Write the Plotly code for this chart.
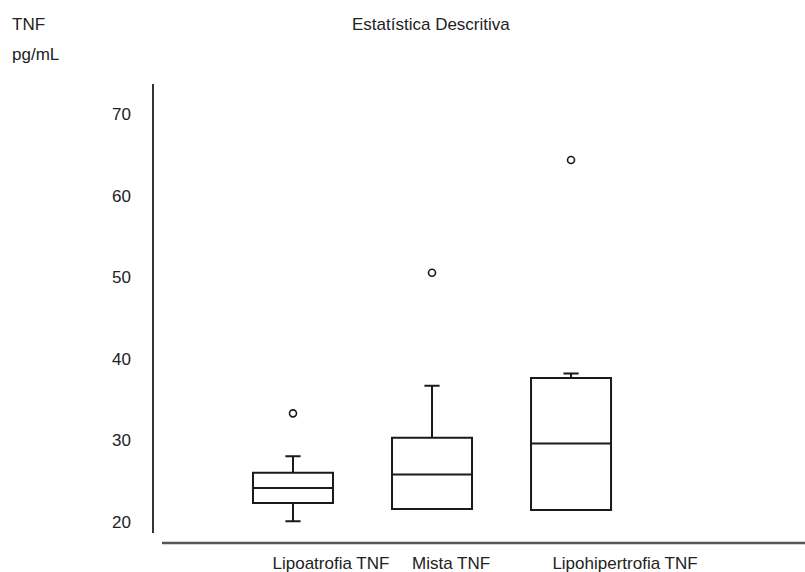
import plotly.graph_objects as go

categories = ["Lipoatrofia TNF", "Mista TNF", "Lipohipertrofia TNF"]
q1 = [22.3, 21.55, 21.45]
median = [24.15, 25.8, 29.6]
q3 = [26.0, 30.3, 37.65]
lower_fence = [20.05, 21.9, 21.95]
upper_fence = [28.05, 36.7, 38.2]
outliers = [33.3, 50.55, 64.4]
y_ticks = [20, 30, 40, 50, 60, 70]

positions = [0, 1, 2]
label_positions = [0.273, 1.137, 2.388]

FONT = "Liberation Sans, Arial, sans-serif"
TXT = "#222222"
LINE = "#1a1a1a"

fig = go.Figure()
fig.add_trace(go.Box(
    x=positions, q1=q1, median=median, q3=q3,
    lowerfence=lower_fence, upperfence=upper_fence,
    width=0.5755, whiskerwidth=0.19,
    fillcolor="rgba(255,255,255,0)",
    line=dict(color=LINE, width=2),
    boxpoints=False, showlegend=False, hoverinfo="skip",
))
fig.add_trace(go.Scatter(
    x=positions, y=outliers, mode="markers",
    marker=dict(symbol="circle-open", size=7, color=LINE, line=dict(width=1.6)),
    showlegend=False, hoverinfo="skip",
))

fig.update_layout(
    width=805, height=572,
    margin=dict(l=153, r=0, t=84, b=29),
    paper_bgcolor="white", plot_bgcolor="white",
    font=dict(family=FONT, size=17, color=TXT),
    xaxis=dict(range=[-1.007, 3.683], tickmode="array", tickvals=label_positions,
               ticktext=categories, showgrid=False, zeroline=False, showline=False,
               ticks="", ticklabelstandoff=8,
               tickfont=dict(family=FONT, size=17, color=TXT)),
    yaxis=dict(range=[17.39, 73.72], tickmode="array", tickvals=y_ticks,
               showgrid=False, zeroline=False, showline=False, ticks="",
               ticklabelstandoff=21,
               tickfont=dict(family=FONT, size=17, color=TXT)),
    shapes=[
        dict(type="line", xref="paper", yref="paper", x0=0, x1=0, y0=0.0218, y1=1,
             line=dict(color="#333333", width=2)),
        dict(type="line", xref="paper", yref="paper", x0=0.0138, x1=1, y0=0, y1=0,
             line=dict(color="#555555", width=2.5)),
    ],
    annotations=[
        dict(text="Estatística Descritiva", xref="paper", yref="paper",
             x=(431 - 153) / 652, y=1 + (84 - 25) / 459, xanchor="center", yanchor="middle",
             showarrow=False, font=dict(family=FONT, size=17, color=TXT)),
        dict(text="TNF", xref="paper", yref="paper",
             x=(10 - 153) / 652, y=1 + (84 - 24) / 459, xanchor="left", yanchor="middle",
             showarrow=False, font=dict(family=FONT, size=17, color=TXT)),
        dict(text="pg/mL", xref="paper", yref="paper",
             x=(10 - 153) / 652, y=1 + (84 - 54) / 459, xanchor="left", yanchor="middle",
             showarrow=False, font=dict(family=FONT, size=17, color=TXT)),
    ],
)

fig.write_html("out.html")
